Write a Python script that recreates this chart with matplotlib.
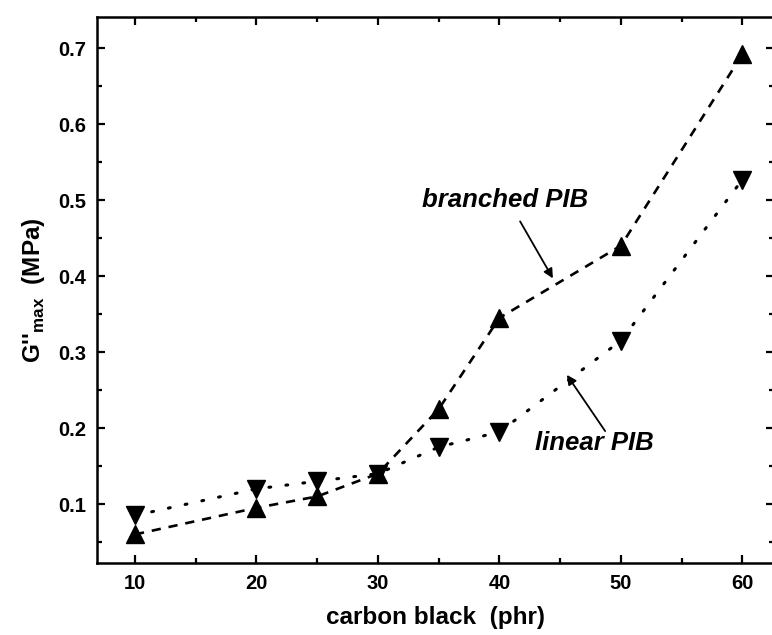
import matplotlib
matplotlib.use("Agg")
import matplotlib.pyplot as plt

plt.rcParams['font.family'] = ['Liberation Sans', 'DejaVu Sans']
plt.rcParams['font.weight'] = 'bold'
plt.rcParams['mathtext.fontset'] = 'custom'
plt.rcParams['mathtext.rm'] = 'Liberation Sans:bold'
plt.rcParams['mathtext.bf'] = 'Liberation Sans:bold'

cb = [10, 20, 25, 30, 35, 40, 50, 60]
branched = [0.060, 0.095, 0.110, 0.140, 0.225, 0.345, 0.440, 0.692]
linear = [0.085, 0.120, 0.130, 0.140, 0.175, 0.195, 0.315, 0.527]

fig = plt.figure(figsize=(7.72, 6.35), dpi=100)
ax = fig.add_axes([0.1256, 0.1134, 0.8770, 0.8598])

ax.plot(cb, branched, color='black', linestyle=(0, (3.5, 3)), linewidth=1.9,
        marker='^', markersize=13, markerfacecolor='black')
ax.plot(cb, linear, color='black', linestyle=(0, (0.6, 5)), linewidth=2.2,
        dash_capstyle='round', marker='v', markersize=13, markerfacecolor='black')

ax.set_xlim(6.87, 62.6)
ax.set_ylim(0.0224, 0.741)
ax.set_xticks([10, 20, 30, 40, 50, 60])
ax.set_xticks([15, 25, 35, 45, 55], minor=True)
ax.set_yticks([0.1, 0.2, 0.3, 0.4, 0.5, 0.6, 0.7])
ax.set_yticks([0.05, 0.15, 0.25, 0.35, 0.45, 0.55, 0.65], minor=True)
ax.tick_params(which='both', direction='in', top=True, right=True, width=1.6,
               labelsize=14.5, pad=8)
ax.tick_params(which='major', length=6)
ax.tick_params(which='minor', length=3.5)
for s in ax.spines.values():
    s.set_linewidth(1.8)

ax.set_xlabel('carbon black  (phr)', fontsize=17.5, fontweight='bold', labelpad=9)
ax.set_ylabel(r"G''$_{\rm max}$  (MPa)", fontsize=17.5, fontweight='bold', labelpad=8)

arrow = dict(arrowstyle='-|>', color='black', lw=1.3, shrinkA=0, shrinkB=0,
             mutation_scale=14)
ax.text(40.45, 0.50, 'branched PIB', fontsize=18.5, fontweight='bold',
        fontstyle='italic', ha='center', va='center')
ax.annotate('', xy=(44.4, 0.397), xytext=(41.7, 0.472), arrowprops=arrow)
ax.text(47.8, 0.180, 'linear PIB', fontsize=18.5, fontweight='bold',
        fontstyle='italic', ha='center', va='center')
ax.annotate('', xy=(45.55, 0.270), xytext=(48.7, 0.196), arrowprops=arrow)

fig.savefig('out.png', dpi=100)
